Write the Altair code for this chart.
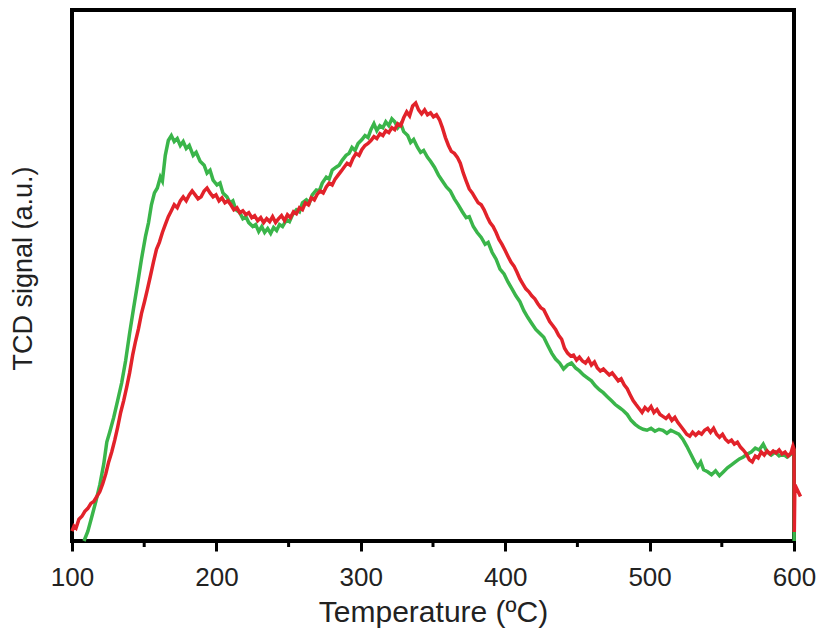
import altair as alt
import pandas as pd

# Temperature (ºC) and TCD signal (a.u.)
green_t = [108.3, 111.0, 113.8, 116.5, 119.3, 122.0, 124.1, 126.1, 128.9, 131.6, 134.4, 137.1, 139.9, 142.6, 145.4,
           148.1, 150.9, 153.0, 155.0, 157.1, 159.1, 161.2, 162.6, 164.6, 166.7, 168.8, 170.8, 172.9, 175.0, 177.0,
           179.1, 181.2, 183.9, 186.0, 188.7, 191.5, 193.5, 195.6, 197.7, 200.4, 202.5, 204.5, 207.3, 209.4, 211.4,
           213.5, 216.2, 218.3, 220.4, 222.4, 225.2, 227.2, 229.3, 231.4, 233.4, 235.5, 237.6, 239.6, 241.7, 243.7,
           245.8, 248.6, 250.6, 252.7, 255.4, 257.5, 259.6, 262.3, 264.4, 266.4, 269.2, 271.3, 273.3, 276.1, 278.1,
           280.2, 282.9, 285.0, 287.1, 289.8, 291.9, 293.9, 296.0, 298.1, 300.8, 302.9, 305.0, 307.0, 309.1, 311.1,
           313.2, 315.3, 317.3, 319.4, 321.5, 323.5, 325.6, 327.7, 329.7, 332.5, 334.5, 336.6, 339.3, 341.4, 343.5,
           346.2, 348.3, 351.0, 353.8, 356.5, 359.3, 362.0, 364.8, 367.5, 370.3, 373.0, 375.1, 377.9, 380.6, 383.4,
           386.1, 388.2, 390.9, 393.7, 396.4, 399.2, 401.9, 404.7, 407.4, 410.2, 412.9, 415.7, 418.4, 421.2, 423.9,
           426.7, 429.4, 432.2, 434.9, 437.7, 440.4, 443.2, 445.9, 448.7, 451.4, 454.2, 456.9, 459.7, 462.4, 465.2,
           467.9, 470.7, 473.5, 476.2, 479.0, 481.7, 484.5, 487.2, 490.0, 492.7, 495.5, 498.2, 501.0, 503.7, 506.5,
           509.2, 512.0, 514.7, 517.5, 520.2, 523.0, 525.7, 528.5, 531.2, 533.3, 535.4, 537.4, 540.2, 542.9, 545.7,
           548.4, 551.2, 553.9, 556.7, 559.4, 562.2, 564.9, 567.7, 570.4, 573.2, 575.9, 578.7, 581.4, 584.2, 586.9,
           589.7, 592.4, 595.2, 597.9, 600.0, 600.1]
green_s = [3, 13, 28, 43, 60, 81, 103, 113, 128, 145, 163, 185, 213, 238, 263,
           288, 311, 325, 343, 355, 360, 371, 367, 393, 408, 413, 407, 410, 403, 407,
           400, 403, 393, 396, 387, 383, 375, 378, 368, 363, 365, 355, 351, 345, 347,
           338, 335, 329, 331, 325, 321, 323, 316, 321, 315, 319, 314, 320, 317, 323,
           321, 328, 326, 333, 338, 336, 345, 348, 345, 353, 358, 357, 365, 371, 369,
           378, 381, 383, 388, 393, 395, 401, 398, 405, 409, 413, 411, 419, 425, 418,
           423, 421, 427, 423, 430, 427, 421, 425, 417, 413, 406, 409, 401, 396, 398,
           391, 387, 381, 373, 367, 361, 357, 349, 343, 336, 330, 331, 321, 315, 310,
           303, 305, 295, 288, 278, 273, 265, 258, 251, 245, 236, 229, 223, 217, 213,
           209, 201, 193, 187, 183, 177, 181, 183, 178, 175, 171, 168, 165, 160, 156,
           153, 149, 145, 141, 138, 135, 131, 125, 121, 118, 116, 115, 117, 114, 116,
           115, 112, 115, 113, 111, 106, 99, 91, 83, 78, 83, 75, 73, 70, 74,
           69, 73, 77, 80, 83, 86, 88, 91, 93, 97, 95, 101, 93, 90, 93,
           89, 91, 88, 91, 93, 3]

red_t = [100.0, 101.4, 102.8, 104.8, 106.9, 108.9, 111.0, 113.1, 115.1, 117.2, 119.3, 121.3, 123.4, 125.4, 127.5,
         129.6, 131.6, 133.7, 135.8, 137.8, 139.9, 142.0, 144.0, 146.1, 148.1, 150.2, 152.3, 154.3, 156.4, 158.5,
         160.5, 162.6, 164.6, 166.7, 168.8, 170.8, 172.9, 175.0, 177.0, 179.1, 181.2, 183.2, 185.3, 187.3, 189.4,
         191.5, 193.5, 195.6, 197.7, 199.7, 201.8, 203.9, 205.9, 208.0, 210.0, 212.1, 214.2, 216.2, 218.3, 220.4,
         222.4, 224.5, 226.5, 228.6, 230.7, 232.7, 234.8, 236.9, 238.9, 241.0, 243.1, 245.1, 247.2, 249.2, 251.3,
         253.4, 255.4, 257.5, 259.6, 261.6, 263.7, 265.7, 267.8, 269.9, 271.9, 274.0, 276.1, 278.1, 280.2, 282.2,
         284.3, 286.4, 288.4, 290.5, 292.6, 294.6, 296.7, 298.8, 300.8, 302.9, 305.0, 307.0, 309.1, 311.1, 313.2,
         315.3, 317.3, 319.4, 321.5, 323.5, 325.6, 327.7, 329.7, 331.8, 333.8, 335.9, 338.0, 340.0, 342.1, 344.2,
         346.2, 348.3, 350.3, 352.4, 354.5, 356.5, 358.6, 360.7, 362.7, 364.8, 366.9, 368.9, 371.0, 373.0, 375.1,
         377.2, 379.2, 381.3, 383.4, 385.4, 387.5, 389.5, 391.6, 393.7, 395.7, 397.8, 399.9, 401.9, 404.0, 406.1,
         408.1, 410.2, 412.2, 414.3, 416.4, 418.4, 420.5, 422.6, 424.6, 426.7, 428.7, 430.8, 432.9, 434.9, 437.0,
         439.1, 441.1, 443.2, 445.3, 447.3, 449.4, 451.4, 453.5, 455.6, 457.6, 459.7, 461.8, 463.8, 465.9, 468.0,
         470.0, 472.1, 474.1, 476.2, 478.3, 480.3, 482.4, 484.5, 486.5, 488.6, 490.6, 492.7, 494.8, 496.8, 498.9,
         501.0, 503.0, 505.1, 507.2, 509.2, 511.3, 513.3, 515.4, 517.5, 519.5, 521.6, 523.7, 525.7, 527.8, 529.8,
         531.9, 534.0, 536.0, 538.1, 540.2, 542.2, 544.3, 546.4, 548.4, 550.5, 552.5, 554.6, 556.7, 558.7, 560.8,
         562.9, 564.9, 567.0, 569.1, 571.1, 573.2, 575.2, 577.3, 579.4, 581.4, 583.5, 585.6, 587.6, 589.7, 591.7,
         593.8, 595.9, 597.9, 599.3, 600.0, 600.2, 600.6, 604.5]
red_s = [13, 18, 16, 25, 28, 33, 36, 41, 43, 48, 53, 61, 71, 83, 93,
         105, 118, 133, 145, 158, 173, 191, 205, 218, 233, 245, 258, 271, 285, 298,
         305, 315, 323, 331, 337, 343, 340, 347, 351, 347, 353, 357, 353, 349, 351,
         357, 360, 355, 351, 353, 347, 350, 345, 347, 343, 338, 340, 335, 337, 333,
         335, 330, 332, 327, 330, 325, 329, 326, 331, 325, 329, 332, 327, 333, 330,
         336, 334, 340, 338, 345, 343, 350, 348, 354, 357, 355, 361, 365, 363, 369,
         373, 377, 381, 385, 383, 390, 395, 393, 399, 403, 405, 408, 412, 410, 415,
         413, 418, 416, 421, 419, 425, 423, 431, 437, 433, 443, 446, 439, 435, 439,
         434, 436, 432, 434, 429, 421, 411, 403, 397, 395, 391, 385, 375, 367, 359,
         355, 350, 345, 343, 338, 331, 325, 321, 315, 308, 303, 297, 291, 285, 281,
         275, 268, 263, 258, 255, 251, 248, 243, 239, 237, 231, 225, 221, 217, 211,
         207, 198, 193, 190, 191, 186, 189, 185, 183, 187, 181, 184, 178, 175, 177,
         174, 171, 173, 169, 165, 167, 161, 157, 151, 145, 141, 137, 133, 138, 135,
         139, 133, 136, 131, 129, 127, 130, 125, 128, 123, 119, 115, 111, 109, 113,
         110, 113, 111, 115, 117, 113, 117, 111, 108, 111, 106, 103, 105, 101, 103,
         98, 95, 91, 85, 83, 89, 87, 93, 90, 94, 91, 94, 92, 95, 91,
         93, 89, 92, 99, 96, 12, 60, 48]

x_ticks = [100, 200, 300, 400, 500, 600]
minor_ticks = [150, 250, 350, 450, 550]

green_df = pd.DataFrame({"t": green_t, "s": green_s, "i": range(len(green_t))})
red_df = pd.DataFrame({"t": red_t, "s": red_s, "i": range(len(red_t))})
minor_df = pd.DataFrame({"t": minor_ticks})

W, H = 722, 531
FONT = "Liberation Sans"

x_axis = alt.Axis(
    title="Temperature (ºC)", values=x_ticks, domain=False, grid=False,
    tickSize=10, tickWidth=3, tickColor="black",
    labelFont=FONT, labelFontSize=26, labelColor="#222222", labelPadding=13,
    labelFlush=False, labelOverlap=False,
    titleFont=FONT, titleFontSize=30, titleFontWeight="normal", titleColor="#222222",
    titleBaseline="top", titleY=56,
)
x_enc = alt.X("t:Q", axis=x_axis, scale=alt.Scale(domain=[100, 600], nice=False, zero=False))
y_enc = alt.Y("s:Q", scale=alt.Scale(domain=[3, 540], nice=False, zero=False),
              axis=alt.Axis(title="TCD signal (a.u.)", labels=False, ticks=False, domain=False, grid=False,
                            titleFont=FONT, titleFontSize=27, titleFontWeight="normal", titleColor="#222222",
                            titleAngle=270, titleAlign="center", titleBaseline="top",
                            titleX=-62, titleY=258))

green = alt.Chart(green_df).mark_line(color="#3AB54A", strokeWidth=3.5, clip=False).encode(
    x=x_enc, y=y_enc, order="i:Q")
red = alt.Chart(red_df).mark_line(color="#E2222A", strokeWidth=3.5, clip=False).encode(
    x=x_enc, y=y_enc, order="i:Q")
minor = alt.Chart(minor_df).mark_rule(color="black", strokeWidth=3).encode(
    x=x_enc, y=alt.value(H), y2=alt.value(H + 6))

chart = alt.layer(green, red, minor).properties(
    width=W, height=H,
    background="white",
    autosize=alt.AutoSizeParams(type="none"),
    padding={"left": 64, "top": 2, "right": 23, "bottom": 90},
).configure_view(stroke="black", strokeWidth=4)

chart.save("out.html", embed_options={"renderer": "svg", "actions": False})
